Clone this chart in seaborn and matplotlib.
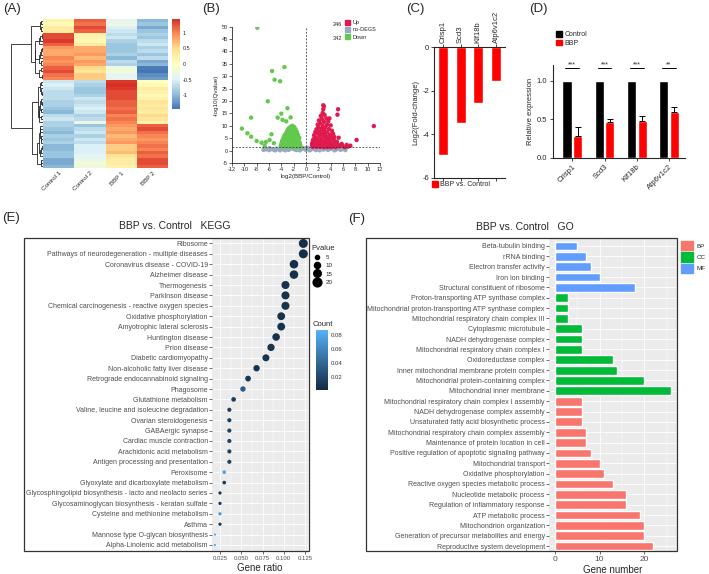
import numpy as np
import pandas as pd
import matplotlib
matplotlib.use("Agg")
import matplotlib as mpl
import matplotlib.pyplot as plt
import seaborn as sns
from matplotlib.colors import LinearSegmentedColormap, Normalize
from matplotlib.patches import Rectangle, Patch
from matplotlib.lines import Line2D

# ------------------------------------------------------------------ data
heat_samples = ["Control 1", "Control 2", "BBP 1", "BBP 2"]
heat_control1 = [0.2, 0.3, 0.1, 0.3, 1.3, 1.4, 1.2, 1.3, 0.9, 0.8, 1.0, 0.9, 0.8, 1.0, 1.2, 1.1, 1.3, 1.0,
                 -0.6, -0.5, -0.7, -0.6, -0.8, -0.7, -0.6, -0.8, -0.7, -0.9, -0.8, -1.0, -0.7,
                 -0.8, -0.9, -1.0, -0.8, -0.9, -1.0, -0.8, -0.9, -1.1, -1.0, -0.9, -1.1, -1.0]
heat_control2 = [1.2, 1.3, 1.1, 1.2, 0.2, 0.1, 0.3, 0.2, 0.8, 0.9, 0.7, 0.9, 0.8, 0.8, 0.5, 0.6, 0.4, 0.6,
                 -0.7, -0.8, -0.6, -0.9, -0.7, -0.8, -0.7, -0.6, -0.9, -0.5, -0.3, -0.6, -0.8,
                 -0.9, -0.7, -0.6, -0.8, -0.6, -0.5, -0.7, -0.5, -0.4, -0.3, -0.4, -0.2, -0.5]
heat_bbp1 = [-0.4, -0.5, -0.3, -0.6, -0.7, -0.8, -0.9, -0.6, -0.9, -0.8, -1.0, -0.7, -0.9, -0.8, -0.3, -0.4, -0.2, -0.4,
             1.4, 1.5, 1.3, 1.4, 1.2, 1.0, 1.1, 1.2, 1.3, 1.1, 1.0, 1.2, 1.3,
             0.9, 0.8, 0.9, 0.7, 0.8, 0.6, 0.9, 0.7, 0.3, 0.2, 0.4, 0.3, 0.6]
heat_bbp2 = [-1.0, -1.1, -0.9, -0.9, -0.8, -0.7, -0.6, -0.9, -0.8, -0.9, -0.7, -1.1, -0.7, -1.0, -1.4, -1.3, -1.5, -1.2,
             0.0, 0.1, 0.2, 0.3, 0.4, 0.5, 0.4, 0.3, 0.2, 0.4, 0.2, 0.3, 0.1,
             1.2, 1.3, 1.1, 1.0, 0.9, 1.1, 1.0, 1.2, 1.3, 1.2, 1.1, 1.3, 1.0]

up_x = [2.8, 2.9, 2.8, 5.2, 5.1, 11.0, 8.2, 3.8, 5.3, 5.0, 5.8, 6.6, 7.2, 6.0, 6.8, 4.6,
        2.7, 3.0, 2.4, 3.3, 2.6, 2.1, 3.6, 2.9, 2.3, 1.9, 3.4, 2.7, 4.0, 2.0, 3.1, 2.5, 1.7, 3.7,
        4.2, 2.9, 2.2, 1.5, 3.4, 1.9, 2.6, 3.1, 3.9, 4.4, 1.3, 2.2, 2.9, 3.5, 4.1, 1.6, 1.2, 1.9,
        2.5, 3.2, 3.8, 4.5, 1.1, 1.6, 2.2, 2.8, 3.4, 4.0, 4.7, 1.0, 1.4, 2.0, 2.6, 3.2, 3.8, 4.4,
        5.2, 1.0, 1.5, 2.1, 2.7, 3.3, 3.9, 4.6, 5.4, 1.1, 1.7, 2.3, 2.9, 3.5, 4.1, 4.8, 6.3]
up_y = [18.3, 17.8, 16.7, 16.7, 14.5, 9.9, 4.3, 13.0, 5.2, 3.6, 2.7, 2.3, 2.0, 1.8, 1.6, 5.5,
        15.2, 14.4, 14.0, 13.0, 12.8, 12.2, 11.8, 11.6, 11.0, 10.5, 10.4, 10.0, 10.2, 9.4, 9.2, 8.8, 8.6, 8.7,
        8.0, 8.0, 7.8, 7.5, 7.4, 6.9, 6.8, 6.6, 6.5, 6.8, 6.2, 6.0, 5.9, 5.6, 5.3, 5.3, 4.6, 4.6,
        4.8, 4.7, 4.4, 4.3, 3.8, 3.8, 3.9, 3.8, 3.6, 3.4, 3.2, 2.9, 3.0, 3.1, 2.9, 2.8, 2.6, 2.5,
        2.4, 2.1, 2.2, 2.2, 2.1, 2.0, 1.9, 1.8, 1.7, 1.5, 1.5, 1.5, 1.4, 1.4, 1.4, 1.4, 1.4]
down_x = [-7.9, -3.5, -5.5, -5.1, -4.2, -6.2, -8.9, -3.0, -4.0, -4.6, -2.5, -3.8, -3.2, -10.4, -9.5, -8.9,
          -5.6, -8.0, -7.2, -6.5, -6.7, -5.9, -5.2,
          -2.2, -2.5, -1.9, -2.8, -2.3, -1.7, -3.0, -2.6, -2.0, -1.5, -3.2, -2.8, -2.3, -1.8, -1.3,
          -3.5, -3.0, -2.5, -2.0, -1.5, -1.1, -3.7, -3.2, -2.7, -2.2, -1.7, -1.2, -3.9, -3.4, -2.9,
          -2.4, -1.9, -1.4, -1.0, -4.0, -3.6, -3.1, -2.6, -2.1, -1.6, -1.2, -0.9, -4.1, -3.7, -3.3,
          -2.8, -2.3, -1.8, -1.3, -0.9]
down_y = [49.6, 33.7, 32.1, 28.6, 28.0, 19.9, 13.3, 17.1, 14.9, 13.3, 13.4, 12.4, 11.8, 8.9, 7.0, 5.6,
          6.6, 3.9, 3.2, 3.5, 2.0, 4.3, 3.0,
          10.0, 9.6, 9.5, 9.0, 8.8, 8.6, 8.2, 8.0, 7.9, 7.6, 7.2, 6.9, 7.0, 6.8, 6.4,
          6.2, 6.0, 5.9, 5.8, 5.6, 5.2, 5.0, 4.9, 4.8, 4.7, 4.6, 4.3, 3.9, 3.8, 3.7,
          3.6, 3.5, 3.4, 3.1, 2.8, 2.7, 2.6, 2.6, 2.5, 2.4, 2.3, 2.0, 1.8, 1.7, 1.7,
          1.6, 1.6, 1.5, 1.5, 1.4]
nodeg_x = [-6.9, -6.5, -6.0, -5.6, -5.2, -4.8, -4.4, -4.0, -3.6, -3.2, -2.8, -2.4, -2.0, -1.6, -1.2, -0.8,
           -0.4, 0.0, 0.4, 0.8, 1.2, 1.6, 2.0, 2.4, 2.8, 3.2, 3.6, 4.0, 4.4, 4.8, 5.2, 5.6, 6.0, 6.4,
           -6.7, -5.9, -5.0, -4.2, -3.4, -2.6, -1.8, -1.0, -0.2, 0.6, 1.4, 2.2, 3.0, 3.8, 4.6, 5.4,
           -3.0, -1.4, 0.2, 1.8, 3.4, 5.0]
nodeg_y = [0.3, 0.5, 0.2, 0.6, 0.3, 0.8, 0.4, 1.0, 0.5, 0.9, 0.3, 1.1, 0.6, 0.2, 0.9, 0.5,
           1.0, 0.3, 0.8, 0.4, 1.0, 0.2, 0.7, 1.1, 0.4, 0.9, 0.3, 0.7, 1.0, 0.4, 0.8, 0.3, 0.6, 0.2,
           0.9, 1.0, 0.1, 0.1, 0.1, 0.7, 1.2, 0.1, 0.6, 0.1, 0.6, 0.1, 1.2, 1.1, 0.1, 1.1,
           0.6, 0.5, 1.2, 0.9, 0.5, 0.6]
up_count, down_count = 246, 342

fc_genes = ["Crisp1", "Scd3", "Klf18b", "Atp6v1c2"]
fc_values = [-4.95, -3.5, -2.55, -1.55]

qpcr_control = [1.0, 1.0, 1.0, 1.0]
qpcr_bbp = [0.29, 0.46, 0.48, 0.59]
qpcr_bbp_err = [0.11, 0.04, 0.06, 0.07]
qpcr_sig = ["***", "***", "***", "**"]

kegg_terms = ["Ribosome", "Pathways of neurodegeneration - multiple diseases", "Coronavirus disease - COVID-19",
              "Alzheimer disease", "Thermogenesis", "Parkinson disease",
              "Chemical carcinogenesis - reactive oxygen species", "Oxidative phosphorylation",
              "Amyotrophic lateral sclerosis", "Huntington disease", "Prion disease", "Diabetic cardiomyopathy",
              "Non-alcoholic fatty liver disease", "Retrograde endocannabinoid signaling", "Phagosome",
              "Glutathione metabolism", "Valine, leucine and isoleucine degradation", "Ovarian steroidogenesis",
              "GABAergic synapse", "Cardiac muscle contraction", "Arachidonic acid metabolism",
              "Antigen processing and presentation", "Peroxisome", "Glyoxylate and dicarboxylate metabolism",
              "Glycosphingolipid biosynthesis - lacto and neolacto series",
              "Glycosaminoglycan biosynthesis - keratan sulfate", "Cysteine and methionine metabolism",
              "Asthma", "Mannose type O-glycan biosynthesis", "Alpha-Linolenic acid metabolism"]
kegg_ratio = [0.123, 0.123, 0.112, 0.112, 0.102, 0.102, 0.102, 0.097, 0.097, 0.091, 0.085, 0.079, 0.068, 0.058,
              0.052, 0.041, 0.036, 0.036, 0.036, 0.036, 0.036, 0.036, 0.030, 0.030, 0.025, 0.025, 0.025, 0.025,
              0.019, 0.019]
kegg_pvalue = [21, 21, 19, 19, 17, 17, 17, 16, 16, 15, 14, 13, 11, 9, 8, 6, 5, 5, 5, 5, 5, 5, 4, 4,
               3.3, 3.3, 3.3, 3.3, 2, 2]
kegg_count = [0.004, 0.004, 0.005, 0.005, 0.006, 0.006, 0.006, 0.006, 0.006, 0.006, 0.007, 0.007, 0.008, 0.010,
              0.033, 0.012, 0.014, 0.014, 0.017, 0.017, 0.017, 0.017, 0.078, 0.012, 0.010, 0.010, 0.072, 0.010,
              0.085, 0.085]

go_terms = ["Beta-tubulin binding", "rRNA binding", "Electron transfer activity", "Iron ion binding",
            "Structural constituent of ribosome", "Proton-transporting ATP synthase complex",
            "Mitochondrial proton-transporting ATP synthase complex", "Mitochondrial respiratory chain complex III",
            "Cytoplasmic microtubule", "NADH dehydrogenase complex", "Mitochondrial respiratory chain complex I",
            "Oxidoreductase complex", "Inner mitochondrial membrane protein complex",
            "Mitochondrial protein-containing complex", "Mitochondrial inner membrane",
            "Mitochondrial respiratory chain complex I assembly", "NADH dehydrogenase complex assembly",
            "Unsaturated fatty acid biosynthetic process", "Mitochondrial respiratory chain complex assembly",
            "Maintenance of protein location in cell", "Positive regulation of apoptotic signaling pathway",
            "Mitochondrial transport", "Oxidative phosphorylation", "Reactive oxygen species metabolic process",
            "Nucleotide metabolic process", "Regulation of inflammatory response", "ATP metabolic process",
            "Mitochondrion organization", "Generation of precursor metabolites and energy",
            "Reproductive system development"]
go_numbers = [5, 7, 8, 10, 18, 3, 3, 3, 6, 6, 6, 13, 14, 20, 26, 6, 6, 6, 7, 7, 8, 10, 11, 13, 16, 16, 19, 20, 20, 22]
go_category = ["MF"] * 5 + ["CC"] * 10 + ["BP"] * 15

# ------------------------------------------------------------------ style
sns.set_style("ticks")
plt.rcParams["font.family"] = ["Liberation Sans", "DejaVu Sans"]
plt.rcParams["axes.unicode_minus"] = False

W, H = 709, 574
fig = plt.figure(figsize=(W / 100, H / 100), dpi=100)


def rect(x0, y0, x1, y1):
    return [x0 / W, 1 - y1 / H, (x1 - x0) / W, (y1 - y0) / H]


def fx(x):
    return x / W


def fy(y):
    return 1 - y / H


# ------------------------------------------------------------------ (A) heatmap with row dendrogram
X = np.column_stack([heat_control1, heat_control2, heat_bbp1, heat_bbp2])
n = len(X)
D = np.sqrt(((X[:, None, :] - X[None, :, :]) ** 2).sum(-1))
clusters = {i: [i] for i in range(n)}
nodes = {i: (0.0, None, None) for i in range(n)}
nid = n
while len(clusters) > 1:
    keys = list(clusters)
    best = None
    for i in range(len(keys)):
        for j in range(i + 1, len(keys)):
            a, b = keys[i], keys[j]
            d = D[np.ix_(clusters[a], clusters[b])].mean()
            if best is None or d < best[0]:
                best = (d, a, b)
    d, a, b = best
    if min(clusters[a]) > min(clusters[b]):
        a, b = b, a
    clusters[nid] = clusters.pop(a) + clusters.pop(b)
    nodes[nid] = (d, a, b)
    nid += 1
root = nid - 1


def leaves(node):
    h, l, r = nodes[node]
    if l is None:
        return [node]
    return leaves(l) + leaves(r)


order = leaves(root)
pos = {leaf: k + 0.5 for k, leaf in enumerate(order)}

heat_cmap = LinearSegmentedColormap.from_list(
    "ph", ["#4575B4", "#91BFDB", "#E0F3F8", "#FFFFBF", "#FEE090", "#FC8D59", "#D73027"])
axA = fig.add_axes(rect(43, 19, 168, 168))
cbA = fig.add_axes(rect(172, 19, 180, 109))
dfA = pd.DataFrame(X[order], columns=heat_samples)
sns.heatmap(dfA, ax=axA, cbar_ax=cbA, cmap=heat_cmap, vmin=-1.45, vmax=1.45, yticklabels=False)
axA.set_xticklabels(heat_samples, rotation=45, ha="right", rotation_mode="anchor", fontsize=4.5)
axA.tick_params(axis="x", length=0, pad=2)
axA.set_xlabel("")
cbA.set_yticks([-1, -0.5, 0, 0.5, 1])
cbA.set_yticklabels(["-1", "-0.5", "0", "0.5", "1"])
cbA.tick_params(labelsize=4, length=0, pad=2)

dax = fig.add_axes(rect(10, 19, 43, 168))


def draw_dendro(node):
    h, l, r = nodes[node]
    if l is None:
        return pos[node], 0.0
    yl, hl = draw_dendro(l)
    yr, hr = draw_dendro(r)
    dax.plot([hl, h, h, hr], [yl, yl, yr, yr], color="#222222", lw=0.6)
    return (yl + yr) / 2, h


draw_dendro(root)
dax.set_ylim(n, 0)
dax.set_xlim(nodes[root][0] * 1.02, 0)
dax.axis("off")

# ------------------------------------------------------------------ (B) volcano
dfB = pd.concat([
    pd.DataFrame({"x": nodeg_x, "y": nodeg_y, "group": "no-DEGS"}),
    pd.DataFrame({"x": down_x, "y": down_y, "group": "Down"}),
    pd.DataFrame({"x": up_x, "y": up_y, "group": "Up"}),
], ignore_index=True)
volcano_palette = {"Up": "#E0194F", "no-DEGS": "#98AAC2", "Down": "#62C94E"}
axB = fig.add_axes(rect(232, 26.7, 380, 163))
sns.scatterplot(data=dfB, x="x", y="y", hue="group", palette=volcano_palette, s=10, linewidth=0,
                legend=False, ax=axB)
axB.axvline(0, ls=(0, (2, 2)), color="#333333", lw=0.6)
axB.axhline(1.3, ls=(0, (2, 2)), color="#333333", lw=0.6)
axB.set_xlim(-12, 12)
axB.set_ylim(-5, 50)
axB.set_xticks(range(-12, 13, 2))
axB.set_yticks(range(-5, 51, 5))
sns.despine(ax=axB)
for s in ["left", "bottom"]:
    axB.spines[s].set_linewidth(0.6)
axB.tick_params(labelsize=4, length=2, width=0.5, pad=1)
axB.set_xlabel("log2(BBP/Control)", fontsize=4.5, labelpad=1)
axB.set_ylabel("-log10(Qvalue)", fontsize=4.5, labelpad=2)
axB.legend(handles=[Patch(color=volcano_palette[k]) for k in ["Up", "no-DEGS", "Down"]],
           labels=["Up", "no-DEGS", "Down"], loc="upper left", bbox_to_anchor=(fx(345), fy(20)),
           bbox_transform=fig.transFigure, frameon=False, fontsize=4, handlelength=0.9, handleheight=0.9,
           handletextpad=0.5, labelspacing=0.35, borderpad=0, borderaxespad=0)
fig.text(fx(337), fy(24.5), str(up_count), fontsize=4, ha="center", va="center")
fig.text(fx(337), fy(38), str(down_count), fontsize=4, ha="center", va="center")

# ------------------------------------------------------------------ (C) fold change
axC = fig.add_axes(rect(434, 47, 505, 178))
sns.barplot(x=fc_genes, y=fc_values, color="#FF0000", width=0.56, saturation=1, ax=axC)
axC.set_ylim(-6, 0)
axC.set_xlim(-0.5, 3.5)
axC.set_yticks([-6, -4, -2, 0])
axC.xaxis.tick_top()
axC.tick_params(axis="x", top=True, bottom=True, labeltop=True, labelbottom=False, labelrotation=90,
                labelsize=5.5, length=2, width=0.6, pad=1)
axC.tick_params(axis="y", labelsize=5.5, length=2.5, width=0.6, pad=1)
axC.spines["right"].set_visible(False)
for s in ["left", "top", "bottom"]:
    axC.spines[s].set_linewidth(0.8)
axC.set_ylabel("Log2(Fold-change)", fontsize=5.5, labelpad=2)
axC.legend(handles=[Patch(color="#FF0000")], labels=["BBP vs. Control"], loc="upper left",
           bbox_to_anchor=(fx(432), fy(181)), bbox_transform=fig.transFigure, frameon=False, fontsize=5,
           handlelength=0.9, handleheight=0.9, handletextpad=0.3, borderpad=0, borderaxespad=0)

# ------------------------------------------------------------------ (D) qPCR
dfD = pd.DataFrame({"gene": fc_genes * 2, "group": ["Control"] * 4 + ["BBP"] * 4,
                    "value": qpcr_control + qpcr_bbp})
axD = fig.add_axes(rect(553, 65, 685, 158))
sns.barplot(data=dfD, x="gene", y="value", hue="group", palette={"Control": "black", "BBP": "#FF0000"},
            width=0.66, gap=0.15, saturation=1, errorbar=None, legend=False, ax=axD)
ctrl_bars, bbp_bars = axD.containers[0], axD.containers[1]
for bar, err in zip(bbp_bars, qpcr_bbp_err):
    xc = bar.get_x() + bar.get_width() / 2
    axD.errorbar(xc, bar.get_height(), yerr=[[0], [err]], color="black", capsize=2, lw=0.7, capthick=0.7)
for cb, bb, sig in zip(ctrl_bars, bbp_bars, qpcr_sig):
    x0 = cb.get_x() + cb.get_width() / 2
    x1 = bb.get_x() + bb.get_width() / 2
    axD.plot([x0 - 0.05, x1 + 0.05], [1.16, 1.16], color="black", lw=0.7, clip_on=False)
    axD.text((x0 + x1) / 2, 1.155, sig, ha="center", va="bottom", fontsize=5, clip_on=False)
axD.set_ylim(0, 1.2)
axD.set_xlim(-0.6, 3.5)
axD.set_yticks([0, 0.5, 1.0])
axD.set_yticklabels(["0.0", "0.5", "1.0"])
axD.set_xticks(range(4))
axD.set_xticklabels(fc_genes, rotation=45, ha="right", rotation_mode="anchor")
sns.despine(ax=axD)
for s in ["left", "bottom"]:
    axD.spines[s].set_linewidth(0.8)
axD.tick_params(labelsize=5.5, length=2.5, width=0.6, pad=1.5)
axD.set_xlabel("")
axD.set_ylabel("Relative expression", fontsize=5.5, labelpad=2)
axD.legend(handles=[Patch(color="black"), Patch(color="#FF0000")], labels=["Control", "BBP"],
           loc="upper left", bbox_to_anchor=(fx(556), fy(31)), bbox_transform=fig.transFigure, frameon=False,
           fontsize=5, handlelength=0.9, handleheight=0.9, handletextpad=0.3, labelspacing=0.2, borderpad=0,
           borderaxespad=0)

# ------------------------------------------------------------------ (E) KEGG dot plot
grey_txt = "#4D4D4D"
cmapE = LinearSegmentedColormap.from_list("gg", ["#132B43", "#56B1F7"])
normE = Normalize(0.0014, 0.087)
dfE = pd.DataFrame({"term": kegg_terms, "ratio": kegg_ratio, "pvalue": kegg_pvalue, "count": kegg_count})
axE = fig.add_axes(rect(212, 237.7, 308, 550.7))
axE.set_facecolor("#EBEBEB")
sns.scatterplot(data=dfE, x="ratio", y="term", hue="count", hue_norm=normE, palette=cmapE, size="pvalue",
                sizes=(2.8, 42), size_norm=(2, 21), linewidth=0, legend=False, ax=axE, zorder=3)
axE.set_xlim(0.0156, 0.1285)
axE.set_ylim(len(kegg_terms) - 0.45, -0.55)
axE.set_xticks([0.025, 0.05, 0.075, 0.1, 0.125])
axE.set_xticklabels(["0.025", "0.050", "0.075", "0.100", "0.125"])
axE.set_xticks([0.0375, 0.0625, 0.0875, 0.1125], minor=True)
axE.set_yticks(range(len(kegg_terms)))
axE.set_yticklabels(kegg_terms)
axE.grid(True, which="major", color="white", lw=0.6)
axE.grid(True, which="minor", axis="x", color="white", lw=0.3)
axE.set_axisbelow(True)
for s in axE.spines.values():
    s.set_visible(False)
axE.tick_params(axis="y", labelsize=5, colors="#333333", labelcolor=grey_txt, length=2, width=0.5, pad=1)
axE.tick_params(axis="x", labelsize=4.3, colors="#333333", labelcolor=grey_txt, length=2, width=0.5, pad=2)
axE.tick_params(which="minor", length=0)
axE.set_xlabel("Gene ratio", fontsize=7, labelpad=1)
axE.set_ylabel("")
fig.add_artist(Rectangle((fx(24), fy(550.7)), fx(309) - fx(24), fy(237.7) - fy(550.7),
                         transform=fig.transFigure, fill=False, lw=0.9, ec="#333333"))
fig.text(fx(175), fy(226), "BBP vs. Control   KEGG", fontsize=7.5, ha="center", va="center")


def sizeE(v):
    return 2.8 + (v - 2) / (21 - 2) * (42 - 2.8)


fig.legend(handles=[Line2D([], [], marker="o", ls="", color="black", markersize=np.sqrt(sizeE(v)))
                    for v in [5, 10, 15, 20]],
           labels=["5", "10", "15", "20"], title="Pvalue", loc="upper left",
           bbox_to_anchor=(fx(311), fy(245)), frameon=False, fontsize=4.5, title_fontsize=5.5,
           alignment="left", handletextpad=0.3, labelspacing=0.45, borderpad=0, borderaxespad=0)
cbE = fig.add_axes(rect(316, 330, 328, 390))
cbarE = mpl.colorbar.ColorbarBase(cbE, cmap=cmapE, norm=normE)
cbarE.set_ticks([0.02, 0.04, 0.06, 0.08])
cbarE.set_ticklabels(["0.02", "0.04", "0.06", "0.08"])
cbarE.outline.set_visible(False)
cbE.tick_params(labelsize=4.3, length=0, pad=2, labelcolor="#333333")
fig.text(fx(313), fy(325), "Count", fontsize=5.5, ha="left", va="center")

# ------------------------------------------------------------------ (F) GO bar plot
go_palette = {"BP": "#F8766D", "CC": "#00BA38", "MF": "#619CFF"}
dfF = pd.DataFrame({"term": go_terms, "n": go_numbers, "cat": go_category})
axF = fig.add_axes(rect(549, 237.7, 677, 550.7))
axF.set_facecolor("#EBEBEB")
sns.barplot(data=dfF, x="n", y="term", hue="cat", palette=go_palette, dodge=False, width=0.85,
            saturation=1, legend=False, ax=axF, orient="h", zorder=3)
axF.set_xlim(-1.3, 27.3)
axF.set_ylim(len(go_terms) - 0.55, -0.8)
axF.set_xticks([0, 10, 20])
axF.set_xticks([5, 15, 25], minor=True)
axF.grid(True, which="major", color="white", lw=0.6)
axF.grid(True, which="minor", axis="x", color="white", lw=0.3)
axF.set_axisbelow(True)
for s in axF.spines.values():
    s.set_visible(False)
axF.tick_params(axis="y", labelsize=5, colors="#333333", labelcolor=grey_txt, length=2, width=0.5, pad=1)
axF.tick_params(axis="x", labelsize=6, colors="#333333", labelcolor=grey_txt, length=2, width=0.5, pad=1.5)
axF.tick_params(which="minor", length=0)
axF.set_xlabel("Gene number", fontsize=7, labelpad=2)
axF.set_ylabel("")
fig.add_artist(Rectangle((fx(366), fy(550.7)), fx(677) - fx(366), fy(237.7) - fy(550.7),
                         transform=fig.transFigure, fill=False, lw=0.9, ec="#333333"))
fig.text(fx(525), fy(227), "BBP vs. Control   GO", fontsize=7.5, ha="center", va="center")
fig.legend(handles=[Patch(color=go_palette[k]) for k in ["BP", "CC", "MF"]], labels=["BP", "CC", "MF"],
           loc="upper left", bbox_to_anchor=(fx(681), fy(241)), frameon=False, fontsize=4.5,
           handlelength=1.9, handleheight=1.9, handletextpad=0.6, labelspacing=0.35, borderpad=0,
           borderaxespad=0)

# ------------------------------------------------------------------ panel labels
for lab, x, y in [("(A)", 12, 9), ("(B)", 211, 9), ("(C)", 415, 9), ("(D)", 538, 9), ("(E)", 11, 218),
                  ("(F)", 357, 219)]:
    fig.text(fx(x), fy(y), lab, fontsize=9.5, ha="center", va="center")

fig.savefig("out.png", dpi=100)
